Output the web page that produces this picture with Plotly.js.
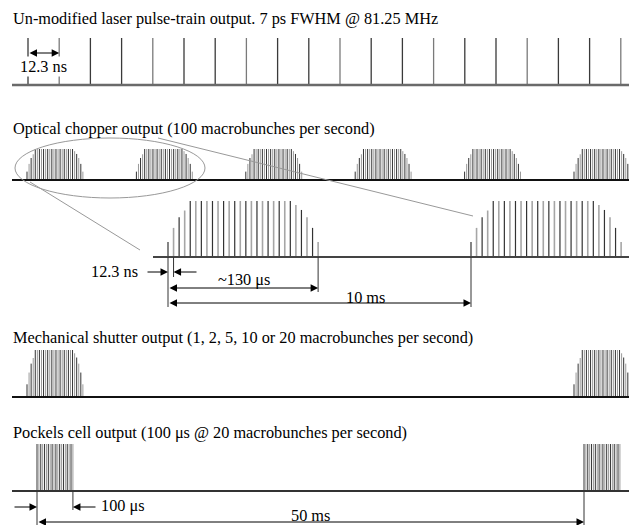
<!DOCTYPE html>
<html><head><meta charset="utf-8">
<script src="https://cdn.plot.ly/plotly-3.0.1.min.js"></script>
<style>html,body{margin:0;padding:0;background:#fff}#chart{width:629px;height:525px}</style>
</head><body><div id="chart"></div>
<script>
// ---------------- data ----------------
const rowTitles = [
  "Un-modified laser pulse-train output. 7 ps FWHM @ 81.25 MHz",
  "Optical chopper output (100 macrobunches per second)",
  "Mechanical shutter output (1, 2, 5, 10 or 20 macrobunches per second)",
  "Pockels cell output (100 \u03bcs @ 20 macrobunches per second)"
];
const laserPulseIndex = [0,1,2,3,4,5,6,7,8,9,10,11,12,13,14,15,16,17,18,19];
const chopperBurstTimesMs = [0,10,20,30,40,50];
const zoomBurstTimesMs = [0,10];
const shutterBurstTimesMs = [0,50];
const pockelsBurstTimesMs = [0,50];
// relative micropulse heights inside one macrobunch (read from the enlarged view)
const macrobunchProfile = [0.27,0.52,0.71,0.83,1,1,1,1,1,1,1,1,1,1,1,1,1,1,1,1,1,1,1,0.93,0.84,0.71,0.52,0.27];
const pockelsProfile = [1,1,1,1,1,1,1,1,1,1,1,1,1,1,1,1,1,1,1,1];
const dimensionLabels = ["12.3 ns","12.3 ns","~130 \u03bcs","10 ms","100 \u03bcs","50 ms"];

// ---------------- geometry (diagram units) ----------------
const G = {
  left: 12, right: 629,
  laser:   {base:85,  top:38, x0:28, dx:31.2},
  chopper: {base:180, h:31, x0:27, pxPerMs:10.94, dx:2.07},
  zoom:    {base:257, h:56, x0:168, pxPerMs:30.3, dx:5.56},
  shutter: {base:397, h:47, x0:27, pxPerMs:10.94, dx:2.07},
  pockels: {base:491, h:47, x0:37, pxPerMs:10.94, dx:1.89}
};

function mkTrace(color, width){
  return {type:'scatter', mode:'lines', x:[], y:[], hoverinfo:'skip',
          line:{color:color, width:width}, showlegend:false};
}
const laserDark = mkTrace('#3a3a3a',1.3), laserLight = mkTrace('#7a7a7a',1.3);
const smallDark = mkTrace('#333333',1), smallLight = mkTrace('#9a9a9a',1);
const zoomDark = mkTrace('#333333',1.2), zoomLight = mkTrace('#a6a6a6',1.6);

function seg(tr, x, y0, y1){ tr.x.push(x,x,null); tr.y.push(y0,y1,null); }

laserPulseIndex.forEach((i,k)=>{
  seg(k%3===1?laserLight:laserDark, G.laser.x0 + i*G.laser.dx, G.laser.base, G.laser.top);
});

function bursts(row, times, profile, dark, light){
  times.forEach(t=>{
    profile.forEach((p,k)=>{
      const x = row.x0 + t*row.pxPerMs + k*row.dx;
      if (x > G.right) return;
      seg(k%2===0?dark:light, x, row.base, row.base - row.h*p);
    });
  });
}
bursts(G.chopper, chopperBurstTimesMs, macrobunchProfile, smallDark, smallLight);
bursts(G.zoom, zoomBurstTimesMs, macrobunchProfile, zoomDark, zoomLight);
bursts(G.shutter, shutterBurstTimesMs, macrobunchProfile, smallDark, smallLight);
bursts(G.pockels, pockelsBurstTimesMs, pockelsProfile, smallDark, smallLight);

const zEnd = G.zoom.x0 + (macrobunchProfile.length-1)*G.zoom.dx;
const zNext = G.zoom.x0 + zoomBurstTimesMs[1]*G.zoom.pxPerMs;
const pNext = G.pockels.x0 + pockelsBurstTimesMs[1]*G.pockels.pxPerMs;
const pEnd = G.pockels.x0 + (pockelsProfile.length-1)*G.pockels.dx;

// ---------------- shapes ----------------
function hline(y, x0, x1, color, w){ return {type:'line', xref:'x', yref:'y', x0:x0, x1:x1, y0:y, y1:y, line:{color:color, width:w}}; }
function vline(x, y0, y1){ return {type:'line', xref:'x', yref:'y', x0:x, x1:x, y0:y0, y1:y1, line:{color:'#333', width:1}}; }
const shapes = [
  hline(G.laser.base, G.left, G.right, '#6a6a6a', 2.5),
  hline(G.chopper.base, G.left, G.right, '#111', 2),
  hline(G.zoom.base, 153, G.right, '#444', 2),
  hline(G.shutter.base, G.left, G.right, '#111', 2),
  hline(G.pockels.base, G.left, G.right, '#333', 2),
  {type:'circle', xref:'x', yref:'y', x0:15, x1:205, y0:138, y1:198, line:{color:'#999', width:1}},
  {type:'line', xref:'x', yref:'y', x0:158, y0:138, x1:473, y1:216, line:{color:'#999', width:1}},
  {type:'line', xref:'x', yref:'y', x0:30, y0:182, x1:140, y1:250, line:{color:'#999', width:1}},
  vline(G.zoom.x0, G.zoom.base, 307),
  vline(G.zoom.x0 + G.zoom.dx, G.zoom.base, 277),
  vline(zEnd, G.zoom.base, 292),
  vline(zNext, G.zoom.base, 307),
  vline(G.pockels.x0, G.pockels.base, 525),
  vline(pEnd, G.pockels.base, 510),
  vline(pNext, G.pockels.base, 525)
];

// ---------------- annotations ----------------
const fam = 'Liberation Serif, Times New Roman, serif';
const bigFont = {family:fam, size:16.3, color:'#000'};
function txt(s, x, y, xanchor, f, bg){ return {text:s, x:x, y:y, xref:'x', yref:'y', showarrow:false, xanchor:xanchor||'left', yanchor:'middle', font:f||bigFont, bgcolor:bg||'rgba(0,0,0,0)', borderpad:0}; }
function arrow(xh, xt, y, both){
  return {text:'', x:xh, y:y, ax:xt, ay:y, xref:'x', yref:'y', axref:'x', ayref:'y',
          showarrow:true, arrowhead:2, startarrowhead:2, arrowsize:1.5, startarrowsize:1.5, arrowwidth:1,
          arrowcolor:'#000', arrowside: both ? 'end+start' : 'end', standoff:0, startstandoff:0};
}
const annotations = [
  txt(rowTitles[0], 12, 18),
  txt(rowTitles[1], 12, 128),
  txt(rowTitles[2], 12, 337),
  txt(rowTitles[3], 12, 432),
  txt(dimensionLabels[0], 19, 66, 'left', bigFont, '#fff'),
  arrow(G.laser.x0 + G.laser.dx, G.laser.x0, 53, true),
  txt(dimensionLabels[1], 90, 271),
  arrow(G.zoom.x0, 146, 272, false),
  arrow(G.zoom.x0 + G.zoom.dx, 198, 272, false),
  txt(dimensionLabels[2], 217, 279),
  arrow(zEnd, G.zoom.x0, 288, true),
  txt(dimensionLabels[3], 345, 297),
  arrow(zNext, G.zoom.x0, 303, true),
  arrow(G.pockels.x0, 13, 507, false),
  arrow(pEnd, 97, 507, false),
  txt(dimensionLabels[4], 100, 505),
  txt(dimensionLabels[5], 310, 515, 'center'),
  arrow(pNext, G.pockels.x0, 522, true)
];

const layout = {
  width:629, height:525, margin:{l:0,r:0,t:0,b:0},
  paper_bgcolor:'#fff', plot_bgcolor:'#fff', showlegend:false,
  xaxis:{range:[0,629], visible:false, fixedrange:true},
  yaxis:{range:[525,0], visible:false, fixedrange:true},
  shapes:shapes, annotations:annotations
};
Plotly.newPlot('chart', [laserDark, laserLight, smallDark, smallLight, zoomDark, zoomLight], layout, {staticPlot:true, displayModeBar:false});
</script></body></html>
